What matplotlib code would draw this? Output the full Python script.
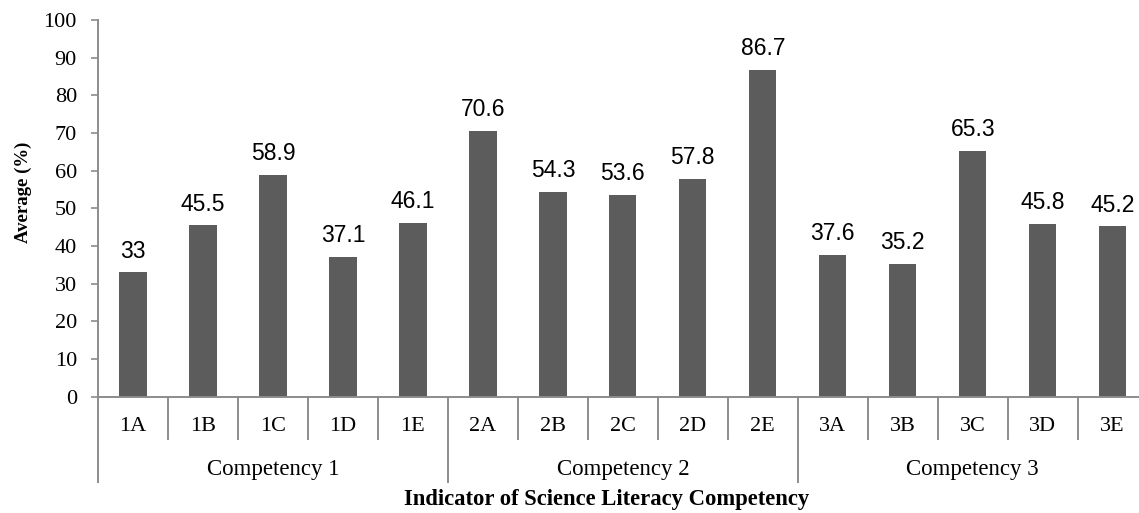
import matplotlib.pyplot as plt

indicators = ['1A', '1B', '1C', '1D', '1E',
              '2A', '2B', '2C', '2D', '2E',
              '3A', '3B', '3C', '3D', '3E']
averages = [33, 45.5, 58.9, 37.1, 46.1,
            70.6, 54.3, 53.6, 57.8, 86.7,
            37.6, 35.2, 65.3, 45.8, 45.2]
groups = ['Competency 1', 'Competency 2', 'Competency 3']
group_size = 5

W, H = 1139, 513
serif = 'Liberation Serif'
sans = 'Liberation Sans'
axis_grey = '#8c8c8c'
bar_grey = '#5c5c5c'

fig = plt.figure(figsize=(W / 100, H / 100), dpi=100)
# plot area runs a little past the right edge of the figure
x0, x1, y0, y1 = 98, 1147.7, 396.7, 20
ax = fig.add_axes([x0 / W, (H - y0) / H, (x1 - x0) / W, (y0 - y1) / H])

pos = list(range(len(indicators)))
ax.bar(pos, averages, width=0.39, color=bar_grey)
for p, v in zip(pos, averages):
    ax.annotate(f'{v:g}', (p, v), xytext=(0, 7), textcoords='offset points',
                ha='center', va='bottom', family=sans, fontsize=16.5)

ax.set_xlim(-0.5, len(indicators) - 0.5)
ax.set_ylim(0, 100)
ax.set_yticks(range(0, 101, 10))
ax.set_xticks([])
ax.tick_params(axis='y', length=4.7, width=1.2, color=axis_grey, pad=10.5,
               labelfontfamily=serif, labelsize=16)
for s in ['top', 'right']:
    ax.spines[s].set_visible(False)
for s in ['left', 'bottom']:
    ax.spines[s].set_color(axis_grey)
    ax.spines[s].set_linewidth(1.4)

# two-level category axis: indicator labels and competency groups
tr = ax.get_xaxis_transform()
plot_h = y0 - y1
short = -(439.3 - y0) / plot_h
long_ = -(481.7 - y0) / plot_h
for k in range(len(indicators) + 1):
    b = k - 0.5
    depth = long_ if k % group_size == 0 else short
    ax.plot([b, b], [0, depth], color=axis_grey, lw=1.4, transform=tr, clip_on=False)
for p, name in zip(pos, indicators):
    ax.text(p, -(426.7 - y0) / plot_h, name, transform=tr, ha='center', va='center',
            family=serif, fontsize=16)
for g, name in enumerate(groups):
    c = g * group_size + (group_size - 1) / 2
    ax.text(c, -(469 - y0) / plot_h, name, transform=tr, ha='center', va='center',
            family=serif, fontsize=16.5)

fig.text(607 / W, 1 - 500 / H, 'Indicator of Science Literacy Competency',
         ha='center', va='center', family=serif, fontsize=16.3, fontweight='bold')
fig.text(23 / W, 1 - 192 / H, 'Average (%)', rotation=90, ha='center', va='center',
         family=serif, fontsize=13.5, fontweight='bold')

fig.savefig('out.png', dpi=100)
